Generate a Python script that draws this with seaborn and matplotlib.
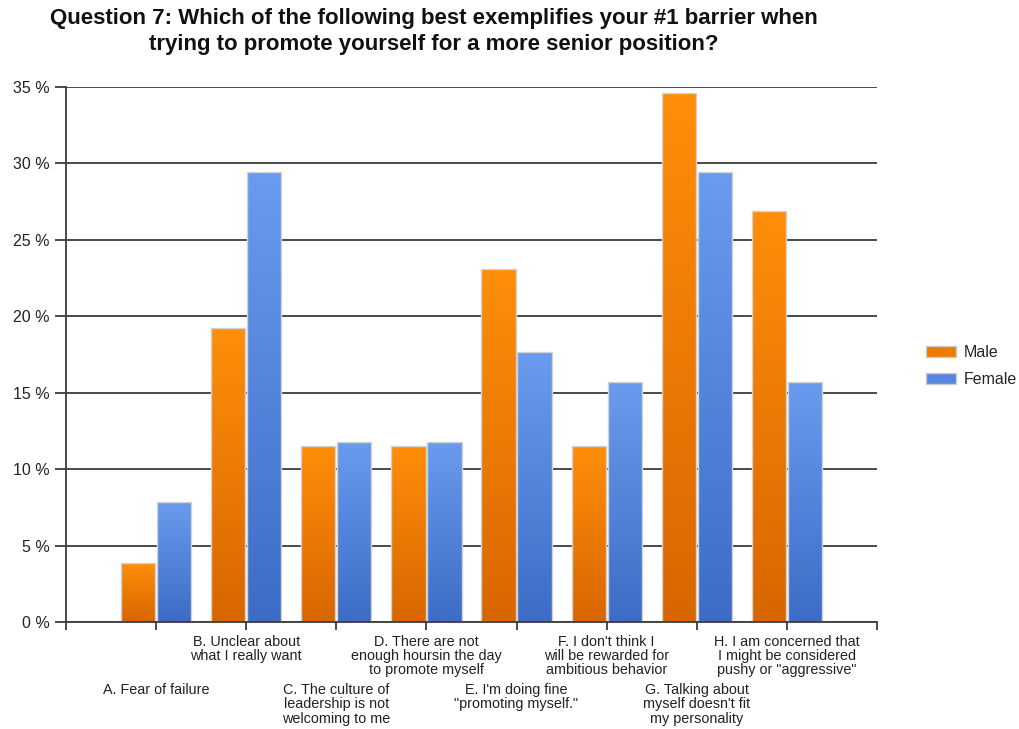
import numpy as np
import pandas as pd
import matplotlib
matplotlib.use("Agg")
import matplotlib.pyplot as plt
from matplotlib.colors import LinearSegmentedColormap
from matplotlib.patches import Patch
import seaborn as sns

# Survey answers (share of respondents, %)
answers = ["A", "B", "C", "D", "E", "F", "G", "H"]
answer_labels = [
    "A. Fear of failure",
    "B. Unclear about\nwhat I really want",
    "C. The culture of\nleadership is not\nwelcoming to me",
    "D. There are not\nenough hoursin the day\nto promote myself",
    "E. I'm doing fine\n\"promoting myself.\"",
    "F. I don't think I\nwill be rewarded for\nambitious behavior",
    "G. Talking about\nmyself doesn't fit\nmy personality",
    "H. I am concerned that\nI might be considered\npushy or \"aggressive\"",
]
male = [3.85, 19.23, 11.54, 11.54, 23.08, 11.54, 34.62, 26.92]
female = [7.84, 29.41, 11.76, 11.76, 17.65, 15.69, 29.41, 15.69]
groups = ["Male", "Female"]
y_ticks = [0, 5, 10, 15, 20, 25, 30, 35]

df = pd.DataFrame({
    "answer": answers * 2,
    "pct": male + female,
    "gender": ["Male"] * len(answers) + ["Female"] * len(answers),
})

sns.set_theme(style="white")
plt.rcParams["font.family"] = ["Liberation Sans", "DejaVu Sans"]

mid_colors = {"Male": "#EE7A00", "Female": "#5585DD"}
gradients = {"Male": ("#D86600", "#FF8E0A"), "Female": ("#3D6CC6", "#6A9BEE")}

fig = plt.figure(figsize=(10.2, 7.29), dpi=100)
ax = fig.add_axes([66 / 1020, 1 - 622 / 729, (877 - 66) / 1020, (622 - 87) / 729])

sns.barplot(data=df, x="answer", y="pct", hue="gender", hue_order=groups,
            order=answers, palette=mid_colors, width=0.8, gap=0.05,
            edgecolor="#d2d2d2", linewidth=1.0, legend=False, ax=ax)

# vertical gradient fill for each bar, clipped to the bar outline
grad = np.linspace(0, 1, 256).reshape(-1, 1)
for container, g in zip(ax.containers, groups):
    cmap = LinearSegmentedColormap.from_list(g, list(gradients[g]))
    for bar in container:
        x0, y0 = bar.get_x(), bar.get_y()
        w, h = bar.get_width(), bar.get_height()
        im = ax.imshow(grad, extent=[x0, x0 + w, y0, y0 + h], origin="lower",
                       cmap=cmap, aspect="auto", zorder=1.5, interpolation="bilinear")
        im.set_clip_path(bar)
        bar.set_facecolor("none")
        bar.set_zorder(2)

ax.set_xlim(-1, 8)
ax.set_ylim(0, 35)
ax.set_yticks(y_ticks)
ax.set_yticklabels([f"{v} %" for v in y_ticks], fontsize=11.5, color="#222222")
ax.set_xticks(np.arange(-1, 9))
ax.set_xticklabels([])
ax.set_xlabel("")
ax.set_ylabel("")

ax.set_axisbelow(True)
ax.yaxis.grid(True, color="#3c3c3c", linewidth=1.3)
ax.xaxis.grid(False)
for side in ["top", "right"]:
    ax.spines[side].set_visible(False)
for side in ["left", "bottom"]:
    ax.spines[side].set_color("#3c3c3c")
    ax.spines[side].set_linewidth(1.3)
ax.tick_params(axis="y", length=8, width=1.3, color="#3c3c3c", pad=4, left=True)
ax.tick_params(axis="x", length=6, width=1.3, color="#3c3c3c", bottom=True)

# staggered category labels under the axis
for i, label in enumerate(answer_labels):
    offset = -44 if i % 2 == 0 else -9
    ax.annotate(label, xy=(i, 0), xycoords=("data", "axes fraction"),
                xytext=(0, offset), textcoords="offset points",
                ha="center", va="top", multialignment="center",
                fontsize=10.4, color="#222222", linespacing=1.02)

fig.text(434 / 1020, 1 - 8 / 729,
         "Question 7: Which of the following best exemplifies your #1 barrier when\n"
         "trying to promote yourself for a more senior position?",
         ha="center", va="top", fontsize=16, fontweight="bold", color="#111111",
         linespacing=1.3)

handles = [Patch(facecolor=mid_colors[g], edgecolor="#cccccc", label=g) for g in groups]
fig.legend(handles=handles, loc="center left", bbox_to_anchor=(926 / 1020, 1 - 366 / 729),
           frameon=False, fontsize=11.5, handlelength=1.9, handleheight=0.75,
           handletextpad=0.45, labelspacing=0.75, borderpad=0, borderaxespad=0)

fig.savefig("out.png", dpi=100, facecolor="white")
